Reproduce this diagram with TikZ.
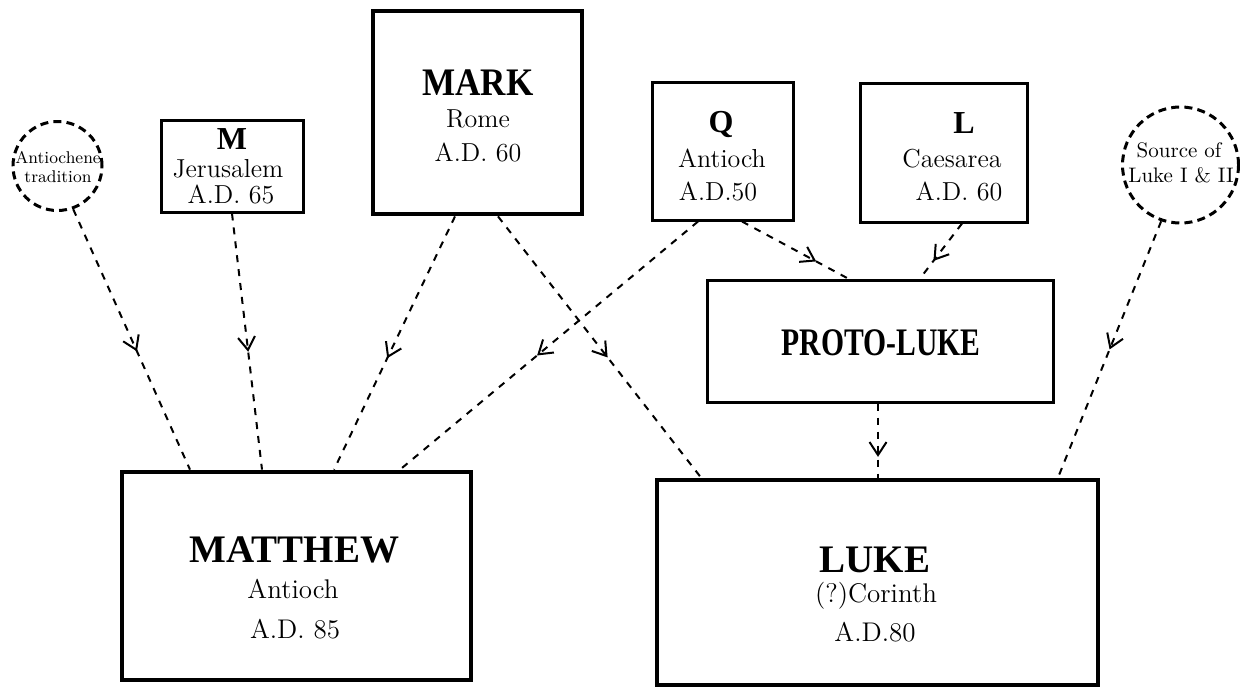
\documentclass[tikz,border=0pt]{standalone}
\usepackage{fontspec}
\usepackage{graphicx}
\newfontfamily\titlefont{Liberation Serif}
\usetikzlibrary{arrows.meta,decorations.markings}

% type sizes for the chart
\newcommand\bigtitle{\titlefont\bfseries\fontsize{19.5pt}{21pt}\selectfont}
\newcommand\srctitle{\titlefont\bfseries\fontsize{16pt}{18pt}\selectfont}
\newcommand\townline{\fontsize{13pt}{15pt}\selectfont}
\newcommand\towntall{\fontsize{13.5pt}{15pt}\selectfont}
\newcommand\circtext{\fontsize{8.5pt}{10pt}\selectfont}
\newcommand\circtextbig{\fontsize{10.5pt}{12pt}\selectfont}

\tikzset{
  srcbox/.style={draw, rectangle, line width=1.5pt, inner sep=0pt},
  bigbox/.style={draw, rectangle, line width=2.4pt, inner sep=0pt},
  oral/.style={draw, circle, line width=1.5pt, dash pattern=on 4pt off 2.6pt, inner sep=0pt},
  txt/.style={anchor=base, inner sep=0pt},
  link/.style={line width=1pt, dash pattern=on 3.5pt off 3.5pt,
    postaction={decorate},
    decoration={markings, mark=at position #1 with
      {\arrow[line width=1pt, solid]{Straight Barb[length=6.5pt,width=8.5pt]}}}},
}

\begin{document}
\begin{tikzpicture}[x=0.5pt,y=-0.5pt]
\fill[white] (0,0) rectangle (1240,691);
\useasboundingbox (0,0) rectangle (1240,691);

% sources and gospels
\node[oral, minimum size=44.5pt] (ant) at (57.5,166) {};
\node[oral, minimum size=58pt] (src) at (1180.5,165) {};
\node[srcbox, minimum width=71pt, minimum height=46pt] (m) at (232,166) {};
\node[bigbox, minimum width=104.5pt, minimum height=101.5pt] (mark) at (477.5,112.5) {};
\node[srcbox, minimum width=70.5pt, minimum height=69pt] (q) at (722.5,151) {};
\node[srcbox, minimum width=83.5pt, minimum height=69.5pt] (l) at (943.5,152.5) {};
\node[srcbox, minimum width=173pt, minimum height=61pt] (proto) at (880,341) {};
\node[bigbox, minimum width=174.5pt, minimum height=104pt] (matt) at (296.5,576) {};
\node[bigbox, minimum width=220.5pt, minimum height=102.5pt] (luke) at (877.5,582.5) {};

% labels
\node[txt, font=\circtext] (ant1) at (58,163) {Antiochene};
\node[txt, font=\circtext] (ant2) at (58,182) {tradition};
\node[txt, font=\circtextbig] (src1) at (1179,157) {Source of};
\node[txt, font=\circtextbig] (src2) at (1181,182) {Luke I \& II};

\node[txt, font=\srctitle] (m1) at (232,149) {M};
\node[txt, font=\townline] (m2) at (228,177) {Jerusalem};
\node[txt, font=\townline] (m3) at (231,203) {A.D. 65};

\node[txt, font=\bigtitle] (mark1) at (478,95) {\scalebox{0.9}[1]{MARK}};
\node[txt, font=\townline] (mark2) at (478,127) {Rome};
\node[txt, font=\townline] (mark3) at (478,161) {A.D. 60};

\node[txt, font=\srctitle] (q1) at (721,132) {Q};
\node[txt, font=\townline] (q2) at (722,167) {Antioch};
\node[txt, font=\townline] (q3) at (718,200) {A.D.50};

\node[txt, font=\srctitle] (l1) at (964,133) {L};
\node[txt, font=\townline] (l2) at (952,167) {Caesarea};
\node[txt, font=\townline] (l3) at (959,200) {A.D. 60};

\node[txt, font=\bigtitle] (proto1) at (881,355) {\scalebox{0.76}[1]{PROTO-LUKE}};

\node[txt, font=\bigtitle] (matt1) at (294.5,562) {MATTHEW};
\node[txt, font=\towntall] (matt2) at (293,598) {Antioch};
\node[txt, font=\towntall] (matt3) at (295,638) {A.D. 85};

\node[txt, font=\bigtitle] (luke1) at (875,572) {LUKE};
\node[txt, font=\towntall] (luke2) at (876,602) {(?)Corinth};
\node[txt, font=\towntall] (luke3) at (875,641) {A.D.80};

% lines of dependence
\draw[link=0.546] (ant.-70) -- ([xshift=-53.25pt]matt.north);
\draw[link=0.54] (m.south) -- ([xshift=-17.25pt]matt.north);
\draw[link=0.56] ([xshift=-11.25pt]mark.south) -- ([xshift=18.75pt]matt.north);
\draw[link=0.54] ([xshift=-12.25pt]q.south) -- ([xshift=51.75pt]matt.north);
\draw[link=0.54] ([xshift=10.25pt]mark.south) -- ([xshift=-88.25pt]luke.north);
\draw[link=0.7] ([xshift=9.75pt]q.south) -- ([xshift=-16pt]proto.north);
\draw[link=0.68] ([xshift=9.25pt]l.south) -- ([xshift=20pt]proto.north);
\draw[link=0.72] ([xshift=-1pt]proto.south) -- ([xshift=0.25pt]luke.north);
\draw[link=0.5] (src.-109) -- ([xshift=90.25pt]luke.north);
\end{tikzpicture}
\end{document}
